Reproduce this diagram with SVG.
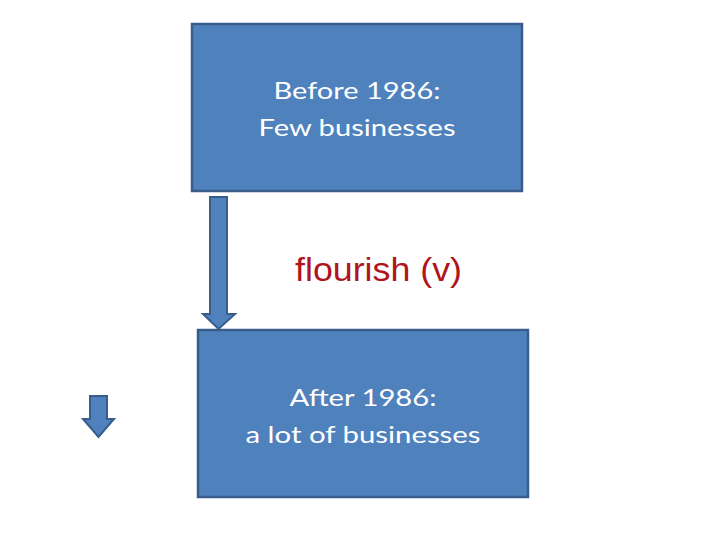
<svg xmlns="http://www.w3.org/2000/svg" width="720" height="540" viewBox="0 0 720 540">
<style>
.box{fill:#4f81bd;stroke:#385d8a;stroke-width:2.5}
.arr{fill:#4f81bd;stroke:#385d8a;stroke-width:2;stroke-linejoin:miter}
.lbl{font-family:Lato,"Liberation Sans",sans-serif;font-size:24px;fill:#ffffff;text-anchor:middle}
.red{font-family:"Liberation Sans",Arial,sans-serif;font-size:33px;fill:#b0141c;text-anchor:middle}
</style>
<rect width="720" height="540" fill="#ffffff"/>
<g id="before">
<rect class="box" x="192" y="24" width="330" height="167"/>
<text class="lbl" x="357" y="99" textLength="167" lengthAdjust="spacingAndGlyphs">Before 1986:</text>
<text class="lbl" x="357" y="136" textLength="197" lengthAdjust="spacingAndGlyphs">Few businesses</text>
</g>
<g id="after">
<rect class="box" x="198" y="330" width="330" height="167"/>
<text class="lbl" x="363" y="406" textLength="147" lengthAdjust="spacingAndGlyphs">After 1986:</text>
<text class="lbl" x="363" y="443" textLength="235" lengthAdjust="spacingAndGlyphs">a lot of businesses</text>
</g>
<g id="connectors">
<path class="arr" d="M210,197 H227 V314 H235 L218.5,329 L203,314 H210 Z"/>
</g>
<g id="label">
<text class="red" x="378.5" y="281" textLength="167" lengthAdjust="spacingAndGlyphs">flourish (v)</text>
</g>
<g id="small-arrow">
<path class="arr" d="M90,396 H107 V419 H114 L98.5,437 L83,419 H90 Z"/>
</g>
</svg>
